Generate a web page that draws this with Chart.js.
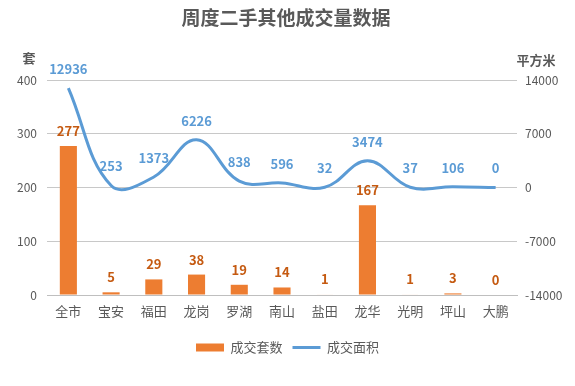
<!DOCTYPE html>
<html>
<head>
<meta charset="utf-8">
<script src="https://cdn.jsdelivr.net/npm/chart.js@4"></script>
<style>
html,body{margin:0;padding:0;background:#fff;}
#wrap{width:575px;height:386px;position:relative;}
</style>
</head>
<body>
<div id="wrap"><canvas id="c" width="575" height="386"></canvas></div>
<script>
const categories = ['全市','宝安','福田','龙岗','罗湖','南山','盐田','龙华','光明','坪山','大鹏'];
const unitsSold = [277,5,29,38,19,14,1,167,1,3,0];
const areaSold = [12936,253,1373,6226,838,596,32,3474,37,106,0];
const leftTicks = [0,100,200,300,400];
const rightTicks = [-14000,-7000,0,7000,14000];
const titleText = '周度二手其他成交量数据';
const leftUnit = '套';
const rightUnit = '平方米';
const seriesNames = ['成交套数','成交面积'];

const FONT = '"Microsoft YaHei","Noto Sans CJK SC","Noto Sans",sans-serif';
const GRAY = '#595959';

const extras = {
  id: 'extras',
  afterDatasetsDraw(chart) {
    const ctx = chart.ctx;
    ctx.save();
    ctx.fillStyle = GRAY;
    ctx.font = 'bold 19px ' + FONT;
    ctx.textAlign = 'center';
    ctx.textBaseline = 'middle';
    ctx.fillText(titleText, 286, 18);
    ctx.font = 'bold 13px ' + FONT;
    ctx.fillText(leftUnit, 29, 58);
    ctx.fillText(rightUnit, 536, 60);
    const barMeta = chart.getDatasetMeta(0);
    ctx.font = 'bold 13px ' + FONT;
    ctx.fillStyle = '#c55a11';
    barMeta.data.forEach((el, i) => {
      ctx.fillText(String(unitsSold[i]), el.x, el.y - 15);
    });
    const lineMeta = chart.getDatasetMeta(1);
    ctx.fillStyle = '#5b9bd5';
    lineMeta.data.forEach((el, i) => {
      ctx.fillText(String(areaSold[i]), el.x, el.y - 19);
    });
    ctx.restore();
  }
};

new Chart(document.getElementById('c'), {
  data: {
    labels: categories,
    datasets: [
      {
        type: 'bar',
        label: seriesNames[0],
        data: unitsSold,
        backgroundColor: '#ed7d31',
        borderWidth: 0,
        yAxisID: 'y',
        barPercentage: 0.5,
        categoryPercentage: 0.8,
        order: 2
      },
      {
        type: 'line',
        label: seriesNames[1],
        data: areaSold,
        borderColor: '#5b9bd5',
        backgroundColor: '#5b9bd5',
        borderWidth: 3,
        pointRadius: 0,
        tension: 0.4,
        yAxisID: 'y1',
        order: 1
      }
    ]
  },
  options: {
    responsive: false,
    animation: false,
    devicePixelRatio: 1,
    layout: { padding: { top: 80, bottom: 22, left: 0, right: 0 } },
    plugins: {
      title: { display: false },
      tooltip: { enabled: false },
      legend: {
        position: 'bottom',
        labels: {
          color: GRAY,
          font: { size: 13, family: FONT },
          usePointStyle: true,
          pointStyleWidth: 28,
          boxHeight: 8,
          padding: 10,
          generateLabels(chart) {
            const items = Chart.defaults.plugins.legend.labels.generateLabels(chart);
            items.forEach((it) => {
              if (it.datasetIndex === 0) { it.pointStyle = 'rect'; it.lineWidth = 0; it.fillStyle = '#ed7d31'; it.strokeStyle = '#ed7d31'; }
              else { it.pointStyle = 'line'; it.lineWidth = 3; it.strokeStyle = '#5b9bd5'; }
            });
            items.sort((a, b) => a.datasetIndex - b.datasetIndex);
            return items;
          }
        }
      }
    },
    scales: {
      x: {
        grid: { display: false, drawTicks: false },
        border: { display: true, color: '#bfbfbf' },
        ticks: { color: GRAY, font: { size: 13, family: FONT }, padding: 8, maxRotation: 0 },
        afterFit(s) { s.height = 36; }
      },
      y: {
        position: 'left',
        min: 0, max: 400,
        grid: { color: '#c8c8c8', drawTicks: false },
        border: { display: false },
        ticks: { color: GRAY, font: { size: 12, family: FONT }, padding: 10, stepSize: 100 },
        afterBuildTicks(s) { s.ticks = leftTicks.map(v => ({ value: v })); },
        afterFit(s) { s.width = 47; }
      },
      y1: {
        position: 'right',
        min: -14000, max: 14000,
        grid: { display: false, drawTicks: false },
        border: { display: false },
        ticks: { color: GRAY, font: { size: 12, family: FONT }, padding: 8, stepSize: 7000, callback: (v) => String(v) },
        afterBuildTicks(s) { s.ticks = rightTicks.map(v => ({ value: v })); },
        afterFit(s) { s.width = 58; }
      }
    }
  },
  plugins: [extras]
});
</script>
</body>
</html>
